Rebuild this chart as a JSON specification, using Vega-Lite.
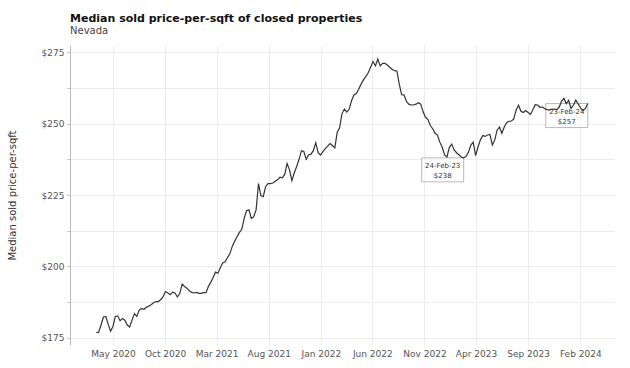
{
  "$schema": "https://vega.github.io/schema/vega-lite/v6.json",
  "width": 544,
  "height": 300,
  "autosize": {"type": "none"},
  "padding": {"left": 70, "top": 45, "right": 16, "bottom": 23},
  "background": "white",
  "config": {
    "font": "DejaVu Sans",
    "view": {"stroke": null}
  },
  "title": {
    "text": "Median sold price-per-sqft of closed properties",
    "subtitle": "Nevada",
    "anchor": "start",
    "frame": "group",
    "font": "DejaVu Sans",
    "fontSize": 11,
    "fontWeight": "bold",
    "color": "#111",
    "subtitleFont": "DejaVu Sans",
    "subtitleFontSize": 10,
    "subtitleColor": "#444",
    "subtitlePadding": 2,
    "offset": 9
  },
  "datasets": {
    "series": [
      {"date": "2020-03-13", "price": 176.8}, {"date": "2020-03-20", "price": 177}, {"date": "2020-03-27", "price": 179.5},
      {"date": "2020-04-03", "price": 182.3}, {"date": "2020-04-10", "price": 182.5}, {"date": "2020-04-17", "price": 179.8}, {"date": "2020-04-24", "price": 177.3},
      {"date": "2020-05-01", "price": 179}, {"date": "2020-05-08", "price": 182.5}, {"date": "2020-05-15", "price": 182.7}, {"date": "2020-05-22", "price": 181}, {"date": "2020-05-29", "price": 181.8},
      {"date": "2020-06-05", "price": 181.2}, {"date": "2020-06-12", "price": 179.5}, {"date": "2020-06-19", "price": 178.8}, {"date": "2020-06-26", "price": 181.2},
      {"date": "2020-07-03", "price": 183.5}, {"date": "2020-07-10", "price": 182.5}, {"date": "2020-07-17", "price": 184.7}, {"date": "2020-07-24", "price": 185.3}, {"date": "2020-07-31", "price": 185},
      {"date": "2020-08-07", "price": 185.7}, {"date": "2020-08-14", "price": 186.1}, {"date": "2020-08-21", "price": 186.6}, {"date": "2020-08-28", "price": 187.3},
      {"date": "2020-09-04", "price": 187.7}, {"date": "2020-09-11", "price": 187.7}, {"date": "2020-09-18", "price": 188.3}, {"date": "2020-09-25", "price": 189.4},
      {"date": "2020-10-02", "price": 191.2}, {"date": "2020-10-09", "price": 190.7}, {"date": "2020-10-16", "price": 190.1}, {"date": "2020-10-23", "price": 191}, {"date": "2020-10-30", "price": 190.7},
      {"date": "2020-11-06", "price": 189.3}, {"date": "2020-11-13", "price": 190.5}, {"date": "2020-11-20", "price": 193.8}, {"date": "2020-11-27", "price": 193},
      {"date": "2020-12-04", "price": 192.4}, {"date": "2020-12-11", "price": 191.5}, {"date": "2020-12-18", "price": 190.9}, {"date": "2020-12-25", "price": 190.7},
      {"date": "2021-01-01", "price": 190.9}, {"date": "2021-01-08", "price": 190.6}, {"date": "2021-01-15", "price": 190.6}, {"date": "2021-01-22", "price": 190.8}, {"date": "2021-01-29", "price": 190.8},
      {"date": "2021-02-05", "price": 193}, {"date": "2021-02-12", "price": 194.5}, {"date": "2021-02-19", "price": 196.1}, {"date": "2021-02-26", "price": 198},
      {"date": "2021-03-05", "price": 197.6}, {"date": "2021-03-12", "price": 199.5}, {"date": "2021-03-19", "price": 201.2}, {"date": "2021-03-26", "price": 201.6},
      {"date": "2021-04-02", "price": 203.1}, {"date": "2021-04-09", "price": 204.4}, {"date": "2021-04-16", "price": 207}, {"date": "2021-04-23", "price": 208.8}, {"date": "2021-04-30", "price": 210.4},
      {"date": "2021-05-07", "price": 211.9}, {"date": "2021-05-14", "price": 213}, {"date": "2021-05-21", "price": 216.8}, {"date": "2021-05-28", "price": 219.5},
      {"date": "2021-06-04", "price": 219.8}, {"date": "2021-06-11", "price": 216.8}, {"date": "2021-06-18", "price": 217.4}, {"date": "2021-06-25", "price": 219.8},
      {"date": "2021-07-02", "price": 229}, {"date": "2021-07-09", "price": 224.8}, {"date": "2021-07-16", "price": 224.4}, {"date": "2021-07-23", "price": 228}, {"date": "2021-07-30", "price": 229},
      {"date": "2021-08-06", "price": 229}, {"date": "2021-08-13", "price": 229.2}, {"date": "2021-08-20", "price": 229.8}, {"date": "2021-08-27", "price": 230.3},
      {"date": "2021-09-03", "price": 231.2}, {"date": "2021-09-10", "price": 231}, {"date": "2021-09-17", "price": 232.2}, {"date": "2021-09-24", "price": 236},
      {"date": "2021-10-01", "price": 233.8}, {"date": "2021-10-08", "price": 230}, {"date": "2021-10-15", "price": 232.8}, {"date": "2021-10-22", "price": 235}, {"date": "2021-10-29", "price": 237.5},
      {"date": "2021-11-05", "price": 240.5}, {"date": "2021-11-12", "price": 240.2}, {"date": "2021-11-19", "price": 237.5}, {"date": "2021-11-26", "price": 239},
      {"date": "2021-12-03", "price": 239.3}, {"date": "2021-12-10", "price": 240.5}, {"date": "2021-12-17", "price": 243.3}, {"date": "2021-12-24", "price": 239.8}, {"date": "2021-12-31", "price": 239},
      {"date": "2022-01-07", "price": 240.2}, {"date": "2022-01-14", "price": 241.2}, {"date": "2022-01-21", "price": 242.1}, {"date": "2022-01-28", "price": 243},
      {"date": "2022-02-04", "price": 242.3}, {"date": "2022-02-11", "price": 241.5}, {"date": "2022-02-18", "price": 247}, {"date": "2022-02-25", "price": 248.5},
      {"date": "2022-03-04", "price": 253.5}, {"date": "2022-03-11", "price": 255.1}, {"date": "2022-03-18", "price": 254}, {"date": "2022-03-25", "price": 255},
      {"date": "2022-04-01", "price": 258}, {"date": "2022-04-08", "price": 260}, {"date": "2022-04-15", "price": 260.5}, {"date": "2022-04-22", "price": 262}, {"date": "2022-04-29", "price": 263.8},
      {"date": "2022-05-06", "price": 265.3}, {"date": "2022-05-13", "price": 266.5}, {"date": "2022-05-20", "price": 267.8}, {"date": "2022-05-27", "price": 269.8},
      {"date": "2022-06-03", "price": 271.7}, {"date": "2022-06-10", "price": 270.2}, {"date": "2022-06-17", "price": 272.6}, {"date": "2022-06-24", "price": 270.2},
      {"date": "2022-07-01", "price": 271.1}, {"date": "2022-07-08", "price": 271.1}, {"date": "2022-07-15", "price": 270.5}, {"date": "2022-07-22", "price": 269.7}, {"date": "2022-07-29", "price": 269},
      {"date": "2022-08-05", "price": 268.5}, {"date": "2022-08-12", "price": 268.4}, {"date": "2022-08-19", "price": 263.8}, {"date": "2022-08-26", "price": 260.1},
      {"date": "2022-09-02", "price": 260}, {"date": "2022-09-09", "price": 257.8}, {"date": "2022-09-16", "price": 256.8}, {"date": "2022-09-23", "price": 256.5}, {"date": "2022-09-30", "price": 256.5},
      {"date": "2022-10-07", "price": 256.8}, {"date": "2022-10-14", "price": 257.3}, {"date": "2022-10-21", "price": 256.8}, {"date": "2022-10-28", "price": 254.1},
      {"date": "2022-11-04", "price": 252.2}, {"date": "2022-11-11", "price": 251.5}, {"date": "2022-11-18", "price": 249.3}, {"date": "2022-11-25", "price": 248.2},
      {"date": "2022-12-02", "price": 246.6}, {"date": "2022-12-09", "price": 246}, {"date": "2022-12-16", "price": 243.5}, {"date": "2022-12-23", "price": 241.7}, {"date": "2022-12-30", "price": 239},
      {"date": "2023-01-06", "price": 238.3}, {"date": "2023-01-13", "price": 241.7}, {"date": "2023-01-20", "price": 242.8}, {"date": "2023-01-27", "price": 240.8},
      {"date": "2023-02-03", "price": 239.8}, {"date": "2023-02-10", "price": 239.1}, {"date": "2023-02-17", "price": 238.3}, {"date": "2023-02-24", "price": 238},
      {"date": "2023-03-03", "price": 238.5}, {"date": "2023-03-10", "price": 240}, {"date": "2023-03-17", "price": 242.5}, {"date": "2023-03-24", "price": 243.5}, {"date": "2023-03-31", "price": 238.8},
      {"date": "2023-04-07", "price": 241.8}, {"date": "2023-04-14", "price": 244.3}, {"date": "2023-04-21", "price": 245.8}, {"date": "2023-04-28", "price": 245.5},
      {"date": "2023-05-05", "price": 246}, {"date": "2023-05-12", "price": 246.2}, {"date": "2023-05-19", "price": 242.5}, {"date": "2023-05-26", "price": 244.2},
      {"date": "2023-06-02", "price": 247.7}, {"date": "2023-06-09", "price": 248.8}, {"date": "2023-06-16", "price": 246.6}, {"date": "2023-06-23", "price": 248.8}, {"date": "2023-06-30", "price": 250.3},
      {"date": "2023-07-07", "price": 250.8}, {"date": "2023-07-14", "price": 250.9}, {"date": "2023-07-21", "price": 251.6}, {"date": "2023-07-28", "price": 254.8},
      {"date": "2023-08-04", "price": 256.4}, {"date": "2023-08-11", "price": 254.3}, {"date": "2023-08-18", "price": 253.9}, {"date": "2023-08-25", "price": 254.6},
      {"date": "2023-09-01", "price": 253.9}, {"date": "2023-09-08", "price": 253.2}, {"date": "2023-09-15", "price": 254.8}, {"date": "2023-09-22", "price": 256.6}, {"date": "2023-09-29", "price": 256.5},
      {"date": "2023-10-06", "price": 255.7}, {"date": "2023-10-13", "price": 255.8}, {"date": "2023-10-20", "price": 255.2}, {"date": "2023-10-27", "price": 254.9},
      {"date": "2023-11-03", "price": 254.7}, {"date": "2023-11-10", "price": 255.1}, {"date": "2023-11-17", "price": 255}, {"date": "2023-11-24", "price": 254.9},
      {"date": "2023-12-01", "price": 255.7}, {"date": "2023-12-08", "price": 257.8}, {"date": "2023-12-15", "price": 258.8}, {"date": "2023-12-22", "price": 257}, {"date": "2023-12-29", "price": 258.1},
      {"date": "2024-01-05", "price": 255.3}, {"date": "2024-01-12", "price": 256.4}, {"date": "2024-01-19", "price": 258.2}, {"date": "2024-01-26", "price": 256.8},
      {"date": "2024-02-02", "price": 255.5}, {"date": "2024-02-09", "price": 254.5}, {"date": "2024-02-16", "price": 255.3}, {"date": "2024-02-23", "price": 257}
    ],
    "notes": [
      {"date": "2023-02-24", "price": 238, "label": "24-Feb-23\n$238"},
      {"date": "2024-02-23", "price": 257, "label": "23-Feb-24\n$257"}
    ]
  },
  "encoding": {
    "x": {
      "field": "date",
      "type": "temporal",
      "scale": {"type": "utc", "domain": ["2019-12-27", "2024-05-10"]},
      "axis": {
        "title": null,
        "values": [
          {"year": 2020, "month": "may", "date": 1, "utc": true},
          {"year": 2020, "month": "oct", "date": 1, "utc": true},
          {"year": 2021, "month": "mar", "date": 1, "utc": true},
          {"year": 2021, "month": "aug", "date": 1, "utc": true},
          {"year": 2022, "month": "jan", "date": 1, "utc": true},
          {"year": 2022, "month": "jun", "date": 1, "utc": true},
          {"year": 2022, "month": "nov", "date": 1, "utc": true},
          {"year": 2023, "month": "apr", "date": 1, "utc": true},
          {"year": 2023, "month": "sep", "date": 1, "utc": true},
          {"year": 2024, "month": "feb", "date": 1, "utc": true}
        ],
        "format": "%b %Y",
        "labelOverlap": false,
        "labelFontSize": 9,
        "labelColor": "#555",
        "labelPadding": 4,
        "domain": false,
        "ticks": false,
        "grid": true,
        "gridColor": "#ececec",
        "gridWidth": 1
      }
    },
    "y": {
      "field": "price",
      "type": "quantitative",
      "scale": {"domain": [172.5, 277.5], "nice": false, "zero": false},
      "axis": {
        "title": "Median sold price-per-sqft",
        "titleFontSize": 10,
        "titleFontWeight": "normal",
        "titleColor": "#333",
        "titlePadding": 24,
        "values": [175, 187.5, 200, 212.5, 225, 237.5, 250, 262.5, 275],
        "labelExpr": "datum.value % 25 == 0 ? '$' + datum.value : ''",
        "labelFontSize": 9,
        "labelColor": "#555",
        "labelPadding": 3,
        "domainColor": "#bbb",
        "tickColor": "#bbb",
        "tickSize": 3,
        "gridColor": "#ececec",
        "gridWidth": 1
      }
    }
  },
  "layer": [
    {
      "data": {"name": "notes"},
      "mark": {"type": "rect", "fill": "white", "fillOpacity": 0.6, "stroke": "#999", "strokeWidth": 0.7, "xOffset": -42, "y2Offset": 24},
      "encoding": {
        "x2": {"field": "date"},
        "y2": {"field": "price"}
      }
    },
    {
      "data": {"name": "series"},
      "mark": {"type": "line", "color": "#333", "strokeWidth": 1.2},
      "encoding": {}
    },
    {
      "data": {"name": "notes"},
      "mark": {"type": "text", "lineBreak": "\n", "fontSize": 7, "color": "#333", "align": "center", "baseline": "top", "dx": -21, "dy": 4, "lineHeight": 10},
      "encoding": {
        "text": {"field": "label"}
      }
    }
  ]
}
